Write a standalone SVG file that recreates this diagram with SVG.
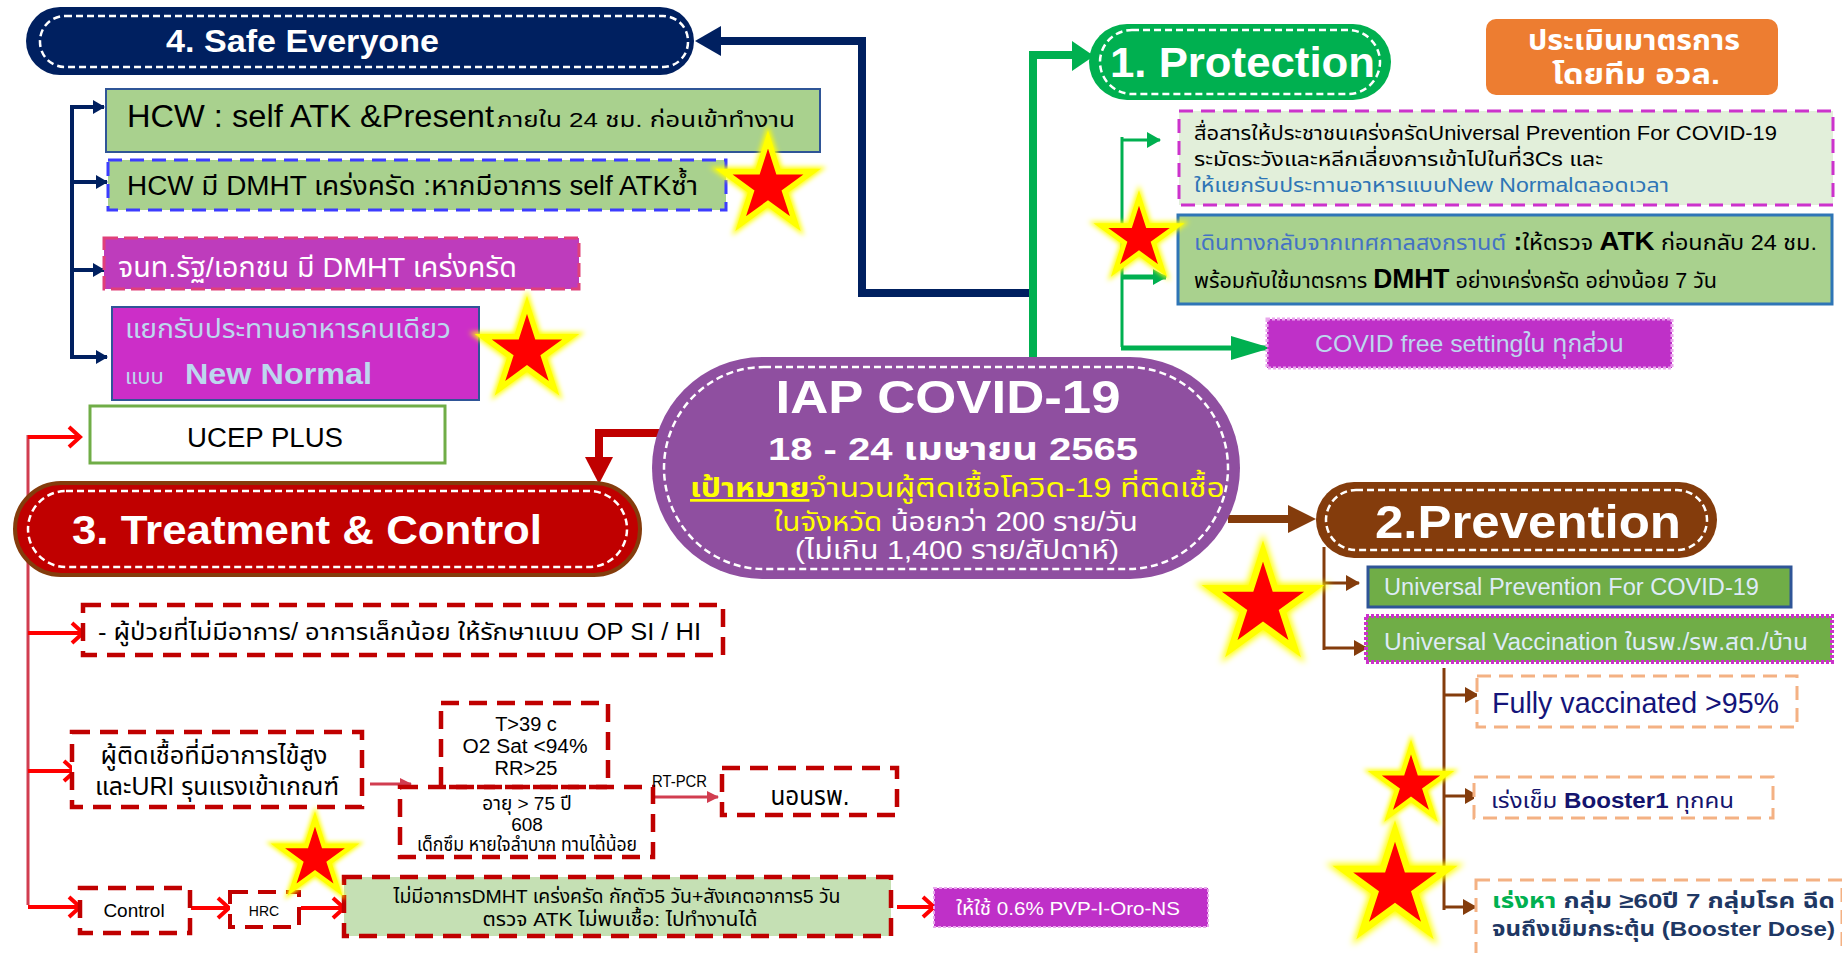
<svg xmlns="http://www.w3.org/2000/svg" xmlns:xlink="http://www.w3.org/1999/xlink" width="1842" height="953" viewBox="0 0 1842 953">
<style>
text{font-family:'Liberation Sans','Noto Sans Thai','Noto Sans',sans-serif;}
.b{font-weight:bold;}
.w{fill:#ffffff;}
.k{fill:#000000;}
.inner{fill:none;stroke:#ffffff;stroke-width:2.5;stroke-dasharray:7 4;}
.rdash{fill:#ffffff;stroke:#C00000;stroke-width:4.5;stroke-dasharray:18 10;}
.navy{fill:none;stroke:#002060;}
.grn{fill:none;stroke:#00B050;}
.brn{fill:none;stroke:#843C0C;}
.red{fill:none;stroke:#FF0000;stroke-width:4;marker-end:url(#chev);}
.crim{fill:none;stroke:#D13D50;stroke-width:3;}
.odash{fill:#ffffff;stroke:#F4B183;stroke-width:3;stroke-dasharray:14 8;}
</style>
<defs>
<marker id="navyH" markerUnits="userSpaceOnUse" markerWidth="12" markerHeight="14" refX="11" refY="7" orient="auto"><path d="M0,0 L12,7 L0,14 Z" fill="#002060"/></marker>
<marker id="grnH" markerUnits="userSpaceOnUse" markerWidth="14" markerHeight="16" refX="13" refY="8" orient="auto"><path d="M0,0 L14,8 L0,16 Z" fill="#00B050"/></marker>
<marker id="grnHB" markerUnits="userSpaceOnUse" markerWidth="40" markerHeight="24" refX="39" refY="12" orient="auto"><path d="M0,0 L40,12 L0,24 Z" fill="#00B050"/></marker>
<marker id="brnH" markerUnits="userSpaceOnUse" markerWidth="14" markerHeight="16" refX="13" refY="8" orient="auto"><path d="M0,0 L14,8 L0,16 Z" fill="#843C0C"/></marker>
<marker id="crimH" markerUnits="userSpaceOnUse" markerWidth="12" markerHeight="12" refX="11" refY="6" orient="auto"><path d="M0,0 L12,6 L0,12 Z" fill="#D13D50"/></marker>
<marker id="chev" markerUnits="userSpaceOnUse" markerWidth="16" markerHeight="24" refX="13" refY="12" orient="auto"><path d="M2,2 L13,12 L2,22" fill="none" stroke="#FF0000" stroke-width="4"/></marker>
<filter id="glow" x="-30%" y="-30%" width="160%" height="160%"><feGaussianBlur stdDeviation="3"/></filter>
<g id="star">
<path d="M0,-50 L11.17,-15.37 L47.55,-15.45 L18.07,5.87 L29.39,40.45 L0,19 L-29.39,40.45 L-18.07,5.87 L-47.55,-15.45 L-11.17,-15.37 Z" fill="#FFFF00" stroke="#FFFF00" stroke-width="10" stroke-linejoin="miter" filter="url(#glow)"/>
<path d="M0,-50 L11.17,-15.37 L47.55,-15.45 L18.07,5.87 L29.39,40.45 L0,19 L-29.39,40.45 L-18.07,5.87 L-47.55,-15.45 L-11.17,-15.37 Z" fill="#FF0000" stroke="#FFFF00" stroke-width="6" stroke-linejoin="miter"/>
</g>
</defs>
<rect width="1842" height="953" fill="#ffffff"/>

<g id="connectors">
<path class="navy" stroke-width="8" d="M1029,293 H862 V41 H718"/>
<polygon points="695,41 721,26 721,56" fill="#002060"/>
<path class="navy" stroke-width="4" d="M72,105 V358"/>
<path class="navy" stroke-width="4" d="M70,107 H104" marker-end="url(#navyH)"/>
<path class="navy" stroke-width="4" d="M72,182 H107" marker-end="url(#navyH)"/>
<path class="navy" stroke-width="4" d="M72,270 H104" marker-end="url(#navyH)"/>
<path class="navy" stroke-width="4" d="M70,357 H107" marker-end="url(#navyH)"/>
<path class="grn" stroke-width="8" d="M1033,360 V55 H1074"/>
<polygon points="1094,56 1072,41 1072,71" fill="#00B050"/>
<path class="grn" stroke-width="3" d="M1122,137 V347"/>
<path class="grn" stroke-width="3" d="M1121,140 H1160" marker-end="url(#grnH)"/>
<path class="grn" stroke-width="5" d="M1121,277 H1166" marker-end="url(#grnH)"/>
<path class="grn" stroke-width="5" d="M1121,348 H1270" marker-end="url(#grnHB)"/>
<path class="brn" stroke-width="8" d="M1228,519 H1290"/>
<polygon points="1316,519 1288,505 1288,533" fill="#843C0C"/>
<path class="brn" stroke-width="3" d="M1324,547 V650"/>
<path class="brn" stroke-width="3" d="M1324,583 H1359" marker-end="url(#brnH)"/>
<path class="brn" stroke-width="3" d="M1324,648 H1367" marker-end="url(#brnH)"/>
<path class="brn" stroke-width="3" d="M1444,668 V910"/>
<path class="brn" stroke-width="3" d="M1444,695 H1478" marker-end="url(#brnH)"/>
<path class="brn" stroke-width="3" d="M1444,796 H1478" marker-end="url(#brnH)"/>
<path class="brn" stroke-width="3" d="M1444,907 H1476" marker-end="url(#brnH)"/>
<path fill="none" stroke="#C00000" stroke-width="8" d="M662,433 H599 V460"/>
<polygon points="585,457 613,457 599,484" fill="#C00000"/>
<path class="crim" d="M28,435 V905"/>
<path class="red" d="M28,437 H80"/>
<path class="red" d="M28,633 H83"/>
<path class="red" d="M28,771 H75"/>
<path class="red" d="M28,907 H80"/>
<path class="red" d="M191,908 H229"/>
<path class="red" d="M301,908 H344"/>
<path class="red" d="M897,907 H934"/>
<path class="crim" d="M370,784 H411" marker-end="url(#crimH)"/>
<path class="crim" d="M652,797 H718" marker-end="url(#crimH)"/>
</g>

<g id="n-safe">
<rect x="26" y="7" width="668" height="68" rx="34" fill="#002060"/>
<rect class="inner" x="40" y="16" width="648" height="51" rx="25"/>
<text class="b w" x="166" y="52" font-size="32" textLength="273" lengthAdjust="spacingAndGlyphs">4. Safe Everyone</text>
</g>
<g id="n-hcw1">
<rect x="106" y="89" width="714" height="63" fill="#A9D18E" stroke="#2F5597" stroke-width="2"/>
<text class="k" x="127" y="127" font-size="31" textLength="367" lengthAdjust="spacingAndGlyphs">HCW : self ATK &amp;Present</text>
<text class="k" x="497" y="127" font-size="21" textLength="298" lengthAdjust="spacingAndGlyphs">ภายใน 24 ชม. ก่อนเข้าทำงาน</text>
</g>
<g id="n-hcw2">
<rect x="108" y="160" width="618" height="50" fill="#A9D18E" stroke="#3C3CFF" stroke-width="3" stroke-dasharray="14 8"/>
<text class="k" x="127" y="195" font-size="27" textLength="571" lengthAdjust="spacingAndGlyphs">HCW มี DMHT เคร่งครัด :หากมีอาการ self ATKซ้ำ</text>
</g>
<g id="n-staff">
<rect x="104" y="238" width="475" height="51" fill="#BE3CBC" stroke="#E0407A" stroke-width="3" stroke-dasharray="14 6"/>
<text class="w" x="118" y="277" font-size="28" textLength="399" lengthAdjust="spacingAndGlyphs">จนท.รัฐ/เอกชน มี DMHT เคร่งครัด</text>
</g>
<g id="n-eat">
<rect x="112" y="307" width="367" height="93" fill="#CC2EC8" stroke="#2F5597" stroke-width="2"/>
<text x="125" y="338" font-size="26" fill="#BDD7EE" textLength="326" lengthAdjust="spacingAndGlyphs">แยกรับประทานอาหารคนเดียว</text>
<text x="125" y="384" font-size="22" fill="#BDD7EE">แบบ</text>
<text class="b" x="185" y="384" font-size="30" fill="#BDD7EE" textLength="187" lengthAdjust="spacingAndGlyphs">New Normal</text>
</g>
<g id="n-ucep">
<rect x="90" y="406" width="355" height="57" fill="#ffffff" stroke="#70AD47" stroke-width="3"/>
<text class="k" x="265" y="447" font-size="27" text-anchor="middle" textLength="156" lengthAdjust="spacingAndGlyphs">UCEP PLUS</text>
</g>
<g id="n-treat">
<rect x="15" y="483" width="625" height="92" rx="46" fill="#C00000" stroke="#843C0C" stroke-width="4"/>
<rect class="inner" x="28" y="491" width="599" height="76" rx="38"/>
<text class="b w" x="72" y="544" font-size="40" textLength="470" lengthAdjust="spacingAndGlyphs">3. Treatment &amp; Control</text>
</g>
<g id="n-center">
<rect x="652" y="357" width="588" height="222" rx="110" ry="111" fill="#8F4FA0"/>
<rect class="inner" x="664" y="367" width="564" height="202" rx="100" ry="101"/>
<text class="b w" x="948" y="413" font-size="46" text-anchor="middle" textLength="345" lengthAdjust="spacingAndGlyphs">IAP COVID-19</text>
<text class="b w" x="953" y="460" font-size="32" text-anchor="middle" textLength="370" lengthAdjust="spacingAndGlyphs">18 - 24 เมษายน 2565</text>
<text x="690" y="497" font-size="27" fill="#FFFF00" textLength="535" lengthAdjust="spacingAndGlyphs"><tspan font-weight="bold" text-decoration="underline">เป้าหมาย</tspan><tspan>จำนวนผู้ติดเชื้อโควิด-19 ที่ติดเชื้อ</tspan></text>
<text x="774" y="531" font-size="27" textLength="364" lengthAdjust="spacingAndGlyphs"><tspan fill="#FFFF00">ในจังหวัด</tspan><tspan fill="#ffffff"> น้อยกว่า 200 ราย/วัน</tspan></text>
<text class="w" x="957" y="559" font-size="26" text-anchor="middle" textLength="324" lengthAdjust="spacingAndGlyphs">(ไม่เกิน 1,400 ราย/สัปดาห์)</text>
</g>
<g id="n-protect">
<rect x="1089" y="24" width="302" height="76" rx="38" fill="#00B050"/>
<rect class="inner" x="1100" y="30" width="280" height="64" rx="32"/>
<text class="b w" x="1110" y="77" font-size="42" textLength="265" lengthAdjust="spacingAndGlyphs">1. Protection</text>
</g>
<g id="n-eval">
<rect x="1486" y="19" width="292" height="76" rx="10" fill="#ED7D31"/>
<text class="b w" x="1634" y="50" font-size="28" text-anchor="middle" textLength="212" lengthAdjust="spacingAndGlyphs">ประเมินมาตรการ</text>
<text class="b w" x="1636" y="84" font-size="28" text-anchor="middle" textLength="168" lengthAdjust="spacingAndGlyphs">โดยทีม อวล.</text>
</g>
<g id="n-comm">
<rect x="1179" y="111" width="654" height="94" fill="#E2EFDA" stroke="#CC33CC" stroke-width="3" stroke-dasharray="14 8"/>
<text class="k" x="1194" y="140" font-size="20" textLength="583" lengthAdjust="spacingAndGlyphs">สื่อสารให้ประชาชนเคร่งครัดUniversal Prevention For COVID-19</text>
<text class="k" x="1194" y="166" font-size="20" textLength="409" lengthAdjust="spacingAndGlyphs">ระมัดระวังและหลีกเลี่ยงการเข้าไปในที่3Cs และ</text>
<text x="1194" y="192" font-size="20" fill="#2E75B6" textLength="475" lengthAdjust="spacingAndGlyphs">ให้แยกรับประทานอาหารแบบNew Normalตลอดเวลา</text>
</g>
<g id="n-songkran">
<rect x="1178" y="215" width="654" height="89" fill="#A9D18E" stroke="#2E75B6" stroke-width="3"/>
<text class="k" x="1194" y="250" font-size="22" textLength="623" lengthAdjust="spacingAndGlyphs"><tspan fill="#4472C4">เดินทางกลับจากเทศกาลสงกรานต์</tspan><tspan font-weight="bold" font-size="25"> :</tspan><tspan>ให้ตรวจ </tspan><tspan font-weight="bold" font-size="26">ATK</tspan><tspan> ก่อนกลับ 24 ชม.</tspan></text>
<text class="k" x="1194" y="288" font-size="22" textLength="523" lengthAdjust="spacingAndGlyphs"><tspan>พร้อมกับใช้มาตรการ </tspan><tspan font-weight="bold" font-size="27">DMHT</tspan><tspan> อย่างเคร่งครัด อย่างน้อย 7 วัน</tspan></text>
</g>
<g id="n-free">
<rect x="1267" y="319" width="405" height="49" fill="#BF30C8" stroke="#E9A6EC" stroke-width="3" stroke-dasharray="3 2"/>
<text x="1315" y="352" font-size="24" fill="#BDD7EE" textLength="309" lengthAdjust="spacingAndGlyphs">COVID free settingใน ทุกส่วน</text>
</g>
<g id="n-prev">
<rect x="1316" y="482" width="401" height="76" rx="38" fill="#843C0C"/>
<rect class="inner" x="1326" y="490" width="381" height="60" rx="30"/>
<text class="b w" x="1375" y="538" font-size="46" textLength="306" lengthAdjust="spacingAndGlyphs">2.Prevention</text>
</g>
<g id="n-up">
<rect x="1368" y="567" width="423" height="40" fill="#70AD47" stroke="#2F5597" stroke-width="3"/>
<text x="1384" y="595" font-size="23" fill="#DEEBF7" textLength="375" lengthAdjust="spacingAndGlyphs">Universal Prevention For COVID-19</text>
</g>
<g id="n-uv">
<rect x="1366" y="616" width="466" height="46" fill="#70AD47" stroke="#CC33CC" stroke-width="4" stroke-dasharray="3 2"/>
<text x="1384" y="650" font-size="23" fill="#DEEBF7" textLength="424" lengthAdjust="spacingAndGlyphs">Universal Vaccination ในรพ./รพ.สต./บ้าน</text>
</g>
<g id="n-fully">
<rect class="odash" x="1477" y="676" width="320" height="51"/>
<text x="1492" y="713" font-size="30" fill="#14147A" textLength="287" lengthAdjust="spacingAndGlyphs">Fully vaccinated &gt;95%</text>
</g>
<g id="n-boost">
<rect class="odash" x="1474" y="777" width="299" height="41"/>
<text x="1491" y="808" font-size="22" fill="#14146E" textLength="243" lengthAdjust="spacingAndGlyphs"><tspan>เร่งเข็ม </tspan><tspan font-weight="bold">Booster1</tspan><tspan> ทุกคน</tspan></text>
</g>
<g id="n-seek">
<rect class="odash" x="1476" y="880" width="366" height="90"/>
<text class="b" x="1492" y="908" font-size="21" fill="#1F3864" textLength="343" lengthAdjust="spacingAndGlyphs"><tspan fill="#00B050">เร่งหา</tspan><tspan> กลุ่ม ≥60ปี 7 กลุ่มโรค ฉีด</tspan></text>
<text class="b" x="1492" y="936" font-size="21" fill="#1F3864" textLength="343" lengthAdjust="spacingAndGlyphs">จนถึงเข็มกระตุ้น (Booster Dose)</text>
</g>
<g id="n-mild">
<rect class="rdash" x="83" y="605" width="640" height="50"/>
<text class="k" x="98" y="640" font-size="23" textLength="603" lengthAdjust="spacingAndGlyphs">- ผู้ป่วยที่ไม่มีอาการ/ อาการเล็กน้อย ให้รักษาแบบ OP SI / HI</text>
</g>
<g id="n-fever">
<rect class="rdash" x="72" y="732" width="290" height="75"/>
<text class="k" x="214" y="764" font-size="25" text-anchor="middle" textLength="227" lengthAdjust="spacingAndGlyphs">ผู้ติดเชื้อที่มีอาการไข้สูง</text>
<text class="k" x="217" y="795" font-size="25" text-anchor="middle" textLength="244" lengthAdjust="spacingAndGlyphs">และURI รุนแรงเข้าเกณฑ์</text>
</g>
<g id="n-crit">
<rect class="rdash" x="441" y="703" width="167" height="84" style="fill:none"/>
<text class="k" x="526" y="731" font-size="20" text-anchor="middle">T&gt;39 c</text>
<text class="k" x="525" y="753" font-size="20" text-anchor="middle" textLength="125" lengthAdjust="spacingAndGlyphs">O2 Sat &lt;94%</text>
<text class="k" x="526" y="775" font-size="20" text-anchor="middle">RR&gt;25</text>
</g>
<g id="n-age">
<rect class="rdash" x="400" y="787" width="253" height="70" style="fill:none"/>
<text class="k" x="527" y="810" font-size="19" text-anchor="middle">อายุ &gt; 75 ปี</text>
<text class="k" x="527" y="831" font-size="19" text-anchor="middle">608</text>
<text class="k" x="527" y="851" font-size="19" text-anchor="middle" textLength="220" lengthAdjust="spacingAndGlyphs">เด็กซึม หายใจลำบาก ทานได้น้อย</text>
</g>
<g id="n-rtpcr">
<text class="k" x="652" y="787" font-size="16" textLength="55" lengthAdjust="spacingAndGlyphs">RT-PCR</text>
</g>
<g id="n-admit">
<rect class="rdash" x="722" y="768" width="175" height="47"/>
<text class="k" x="810" y="805" font-size="27" text-anchor="middle" textLength="79" lengthAdjust="spacingAndGlyphs">นอนรพ.</text>
</g>
<g id="n-control">
<rect class="rdash" x="80" y="888" width="110" height="45"/>
<text class="k" x="134" y="917" font-size="19" text-anchor="middle">Control</text>
</g>
<g id="n-hrc">
<rect class="rdash" x="230" y="892" width="69" height="35" style="stroke-width:4"/>
<text class="k" x="264" y="916" font-size="14" text-anchor="middle">HRC</text>
</g>
<g id="n-quar">
<rect class="rdash" x="344" y="877" width="547" height="59" style="fill:#C5E0B4"/>
<text class="k" x="617" y="903" font-size="19" text-anchor="middle" textLength="447" lengthAdjust="spacingAndGlyphs">ไม่มีอาการDMHT เคร่งครัด กักตัว5 วัน+สังเกตอาการ5 วัน</text>
<text class="k" x="620" y="926" font-size="19" text-anchor="middle" textLength="275" lengthAdjust="spacingAndGlyphs">ตรวจ ATK ไม่พบเชื้อ: ไปทำงานได้</text>
</g>
<g id="n-pvp">
<rect x="934" y="888" width="274" height="39" fill="#BF30C8" stroke="#E9A6EC" stroke-width="2" stroke-dasharray="3 2"/>
<text class="w" x="1068" y="915" font-size="19" text-anchor="middle" textLength="224" lengthAdjust="spacingAndGlyphs">ให้ใช้ 0.6% PVP-I-Oro-NS</text>
</g>

<g id="stars">
<use xlink:href="#star" transform="translate(768,186) scale(0.93)"/>
<use xlink:href="#star" transform="translate(527,351) scale(0.92)"/>
<use xlink:href="#star" transform="translate(1139,238) scale(0.8)"/>
<use xlink:href="#star" transform="translate(315,858) scale(0.78)"/>
<use xlink:href="#star" transform="translate(1263,605) scale(1.08)"/>
<use xlink:href="#star" transform="translate(1411,785) scale(0.76)"/>
<use xlink:href="#star" transform="translate(1395,886) scale(1.1)"/>
</g>
</svg>
